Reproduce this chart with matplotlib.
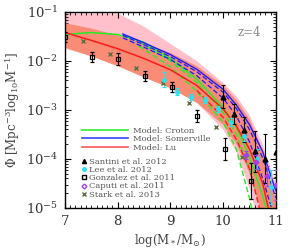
import numpy as np
import matplotlib
matplotlib.use("Agg")
import matplotlib.pyplot as plt
from matplotlib.lines import Line2D

plt.rcParams['font.family'] = ['DejaVu Serif']
plt.rcParams['mathtext.fontset'] = 'dejavuserif'

# ---------------- data ----------------
mass = [7.0, 7.5, 8.0, 8.5, 9.0, 9.5, 10.0, 10.25, 10.5, 10.75, 11.0]

pink_hi = [-1.03, -1.03, -1.03, -1.3, -1.65, -2.0, -2.45, -2.72, -3.1, -3.7, -4.5]
pink_lo = [-1.75, -1.9, -2.07, -2.27, -2.5, -2.85, -3.4, -3.85, -4.6, -5.6, -6.5]
salmon_hi = [-1.22, -1.33, -1.47, -1.63, -1.83, -2.1, -2.5, -2.8, -3.2, -3.85, -4.9]
salmon_lo = [-1.72, -1.9, -2.1, -2.33, -2.55, -2.85, -3.3, -3.7, -4.3, -5.2, -6.0]

lu_mass = [7.0, 7.5, 8.0, 8.5, 9.0, 9.5, 10.0, 10.25, 10.5, 10.75, 10.9]
lu = [-1.42, -1.58, -1.75, -1.95, -2.18, -2.5, -2.98, -3.33, -3.8, -4.5, -5.2]
lu_d_mass = [9.5, 10.0, 10.25, 10.5, 10.7]
lu_d = [-2.6, -3.15, -3.6, -4.2, -5.05]

som_mass = [8.1, 8.5, 9.0, 9.5, 10.0, 10.25, 10.5, 10.75, 11.0]
som = [-1.45, -1.63, -1.87, -2.17, -2.58, -2.9, -3.3, -3.85, -4.65]
som_d_hi = [-1.48, -1.67, -1.91, -2.22, -2.64, -2.97, -3.4, -3.98, -4.8]
som_d_lo = [-1.53, -1.72, -1.97, -2.3, -2.76, -3.12, -3.65, -4.4, -5.3]

cro_mass = [7.0, 7.25, 7.5, 8.0, 8.5, 9.0, 9.5, 10.0, 10.25, 10.5, 10.75, 10.9]
cro = [-1.47, -1.44, -1.42, -1.46, -1.62, -1.95, -2.37, -2.95, -3.35, -3.95, -4.75, -5.3]
cro_d_mass = [8.4, 8.5, 9.0, 9.5, 10.0, 10.25, 10.5, 10.6]
cro_d_hi = [-1.62, -1.67, -2.0, -2.44, -3.05, -3.5, -4.2, -4.6]
cro_d_lo = [-1.7, -1.76, -2.12, -2.62, -3.25, -3.8, -4.8, -5.3]

santini_m = [10.0, 10.2, 10.4, 10.6, 10.8, 11.0]
santini_phi = [-2.73, -3.08, -3.40, -3.84, -4.0, -3.86]
santini_err = [0.23, 0.2, 0.25, 0.42, 0.5, 0.5]

lee_m = [8.88, 9.13, 9.40, 9.65, 9.90, 10.14, 10.39, 10.64, 10.9]
lee_phi = [-2.38, -2.63, -2.73, -2.80, -2.98, -3.24, -3.53, -4.0, -4.57]
lee_err = [0.15, 0.07, 0.06, 0.06, 0.06, 0.08, 0.1, 0.2, 0.35]

gon_m = [7.0, 7.51, 8.01, 8.52, 9.04, 9.51, 10.03, 10.52]
gon_phi = [-1.51, -1.92, -1.96, -2.31, -2.53, -3.12, -3.80, -4.45]
gon_err = [0.1, 0.1, 0.12, 0.1, 0.1, 0.12, 0.22, 0.36]

cap_m = [10.43, 10.62, 10.83, 11.0]
cap_phi = [-3.92, -4.06, -4.35, -4.53]
cap_err = [0.08, 0.15, 0.2, 0.3]

stark_m = [7.34, 7.86, 8.35, 8.86, 9.36, 9.86, 10.36]
stark_phi = [-1.59, -1.86, -2.14, -2.46, -2.86, -3.35, -3.96]

model_names = ["Model: Croton", "Model: Somerville", "Model: Lu"]
obs_names = ["Santini et al. 2012", "Lee et al. 2012", "Gonzalez et al. 2011",
             "Caputi et al. 2011", "Stark et al. 2013"]

# ---------------- plot ----------------
def p(v):
    return 10.0 ** np.asarray(v)

fig = plt.figure(figsize=(2.91, 2.49), dpi=100)
ax = fig.add_axes([0.223, 0.165, 0.725, 0.787])

ax.fill_between(mass, p(pink_lo), p(pink_hi), color='#ffc0cb', lw=0, zorder=1)
ax.fill_between(mass, p(salmon_lo), p(salmon_hi), color='#fa8c76', lw=0, zorder=2)

GREEN = '#22ee22'
BLUE = '#1a1aff'
RED = '#ff1a1a'
ax.plot(cro_mass, p(cro), color=GREEN, lw=1.1, zorder=3)
ax.plot(cro_d_mass, p(cro_d_hi), color=GREEN, lw=1.0, ls=(0, (4, 2)), zorder=3)
ax.plot(cro_d_mass, p(cro_d_lo), color=GREEN, lw=1.0, ls=(0, (4, 2)), zorder=3)
ax.plot(som_mass, p(som), color=BLUE, lw=1.0, zorder=3)
ax.plot(som_mass, p(som_d_hi), color=BLUE, lw=0.9, ls=(0, (4, 2)), zorder=3)
ax.plot(som_mass, p(som_d_lo), color=BLUE, lw=0.9, ls=(0, (4, 2)), zorder=3)
ax.plot(lu_mass, p(lu), color=RED, lw=1.1, zorder=3)
ax.plot(lu_d_mass, p(lu_d), color=RED, lw=1.0, ls=(0, (4, 2)), zorder=3)

def eb(m, v, e, **kw):
    v = np.asarray(v); e = np.asarray(e)
    y = p(v)
    lo = y - p(v - e)
    hi = p(v + e) - y
    ax.errorbar(m, y, yerr=[lo, hi], ls='none', elinewidth=0.8, capsize=1.2,
                capthick=0.8, zorder=5, **kw)

eb(santini_m, santini_phi, santini_err, marker='^', ms=3.5, color='black', mfc='black')
eb(lee_m, lee_phi, lee_err, marker='o', ms=2.5, color='#22e5f0', mfc='#22e5f0', mec='#22e5f0')
eb(gon_m, gon_phi, gon_err, marker='s', ms=3.5, color='black', mfc='none', mew=0.9)
eb(cap_m, cap_phi, cap_err, marker='D', ms=2.5, color='#a040ee', mfc='#a040ee', mec='#a040ee')
ax.plot(stark_m, p(stark_phi), ls='none', marker='x', ms=3.2, mew=1.0,
        color='#5c6e3c', zorder=5)

ax.set_yscale('log')
ax.set_xlim(7, 11)
ax.set_ylim(1e-5, 1e-1)
ax.set_xticks([7, 8, 9, 10, 11])
ax.set_xticks(np.arange(7, 11.01, 0.1), minor=True)
ax.tick_params(which='both', direction='in', top=True, right=True,
               labelsize=9.5, labelcolor='#333333', pad=5)
ax.tick_params(which='major', length=4, width=0.8)
ax.tick_params(which='minor', length=2, width=0.6)
for s in ax.spines.values():
    s.set_linewidth(1.0)

ax.set_xlabel(r'log(M$_*$/M$_{\odot}$)', fontsize=8.5, color='#444444', labelpad=3)
ax.set_ylabel(r'$\Phi$ [Mpc$^{-3}$log$_{10}$M$^{-1}$]', fontsize=8.5,
              color='#444444', labelpad=3)
ax.text(0.93, 0.93, 'z=4', transform=ax.transAxes, ha='right', va='top',
        fontsize=8.5, color='#888888')

h1 = [Line2D([], [], color='#33ee33', lw=1.2),
      Line2D([], [], color='#3344ff', lw=1.2),
      Line2D([], [], color='#ff5555', lw=1.2)]
leg1 = ax.legend(h1, model_names, loc='upper left', bbox_to_anchor=(0.08, 0.415),
                 frameon=False, fontsize=6.0, handlelength=5.5, handletextpad=0.6,
                 borderpad=0, borderaxespad=0, labelspacing=0.08)
for t in leg1.get_texts():
    t.set_color('#555555')
ax.add_artist(leg1)

h2 = [Line2D([], [], ls='none', marker='^', ms=3, color='black'),
      Line2D([], [], ls='none', marker='o', ms=2.5, color='#22e5f0'),
      Line2D([], [], ls='none', marker='s', ms=3, color='black', mfc='none'),
      Line2D([], [], ls='none', marker='D', ms=2.5, color='#a040ee', mfc='none'),
      Line2D([], [], ls='none', marker='x', ms=3, color='#5c6e3c')]
leg2 = ax.legend(h2, obs_names, loc='upper left', bbox_to_anchor=(0.08, 0.255),
                 frameon=False, fontsize=6.0, handlelength=0.6, handletextpad=0.3,
                 borderpad=0, borderaxespad=0, labelspacing=0.02)
for t in leg2.get_texts():
    t.set_color('#555555')

fig.savefig('out.png', dpi=100)
